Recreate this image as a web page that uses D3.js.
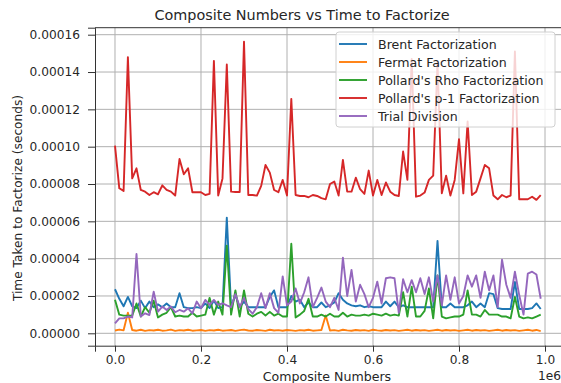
<!DOCTYPE html>
<html><head><meta charset="utf-8">
<script src="https://cdn.jsdelivr.net/npm/d3@7"></script>
<style>body{margin:0;background:#fff}svg{display:block;font-family:"DejaVu Sans",sans-serif}</style>
</head><body><svg id="c" width="561" height="383"></svg>
<script>
// composite numbers (x values)
const composites = d3.range(100).map(i => i * 10000);
// times in microseconds, converted to seconds below
const brent = [23.6,18.5,14.5,19.5,14.5,13.5,17.5,13.5,17,14, 15.5,14,16,14,14,21.5,14,13.5,13.5,14, 13.5,16,13.5,17.5,13.5,14,62,14,20.5,14, 17,14,14,14,14,14,19.5,23,14,14, 14,20,17,18,14,16.5,14,14,16.5,14, 15,16.5,21.5,18,16,15,14.5,15,14,14.5, 14,14,14,17,14.5,17,14,15,14,14, 14,14,14,14,14,49.5,14,14,16,14, 14,14,15,17,14,16,14,21.5,21,13.5, 13,13,13,27.5,13,13,13,13.5,16,13];
const fermat = [1.5,2.0,1.6,11,1.8,1.4,1.9,1.3,1.7,1.5, 1.9,1.4,1.6,2.0,1.3,1.7,1.5,1.9,1.4,1.6, 1.8,1.3,1.7,1.5,1.9,1.4,1.6,1.8,1.3,1.7, 2.0,1.5,1.4,1.8,1.6,1.3,1.9,1.5,1.7,1.4, 1.8,1.6,1.3,1.7,1.5,1.9,1.4,1.6,1.8,9.5, 1.5,1.7,1.3,1.9,1.6,1.4,1.8,1.5,1.7,1.3, 1.9,1.6,1.4,1.8,1.5,1.7,1.3,1.6,1.9,1.4, 1.8,1.5,1.7,1.3,1.6,1.9,1.4,1.8,1.5,1.7, 1.3,1.6,1.9,1.4,1.8,1.5,1.7,1.3,1.6,1.9, 1.4,1.8,1.5,1.7,1.3,1.6,1.9,1.4,1.8,1.2];
const rho = [18,10,9.5,9.5,9.5,16,9,14,11,17.5, 8.5,10,11,14,9,9.5,9,9,11,9, 9.5,10,19,10,17,10,47,10,23,9, 23,10.5,9,10.5,11.5,9.5,11.5,9.5,10.5,9, 9,48,8.5,10,12,18.5,9,9,10,9, 10.5,9,9,11,9,10,9.5,9.5,10,9.5, 10.5,10,9.5,10.5,9.5,10,9.5,22,9,25, 9,9,12,24,8,31,9,8,8.5,9, 9,10,23,10,10,9,12.5,10,10,10, 9,9,8,19.5,9,8,8.5,8,9,10];
const pm1 = [100.6,77.7,76.3,148,83,88.4,76.8,75.9,74.1,75.6, 74.5,79.3,76.8,75.9,73.8,93.4,85.2,88.4,75.6,75.6, 75.6,74.1,74.7,146,73.8,83,144,75.9,75.7,75.7, 156.3,74.1,74.1,73.8,79,90.2,86.1,76.8,75.6,82.2, 73.8,125.6,74.1,73.6,73.6,72.9,74.1,73.6,72.4,71.8, 80,81.3,73.8,92.9,75.9,75.9,83.4,77.2,74.7,87.2, 73.8,82.2,74.1,80.8,75.9,74.1,73.6,97.4,82.2,147, 73.2,73.8,75.4,82.2,84.5,145,75,84.5,73.8,82.2, 104,75,113.5,74.1,75.9,83,90.2,88.4,73.8,71.8, 74.1,72.9,73.8,151,71.8,71.8,71.8,73.2,71.5,74.1];
const trial = [5.3,8,8,9,8.5,42.5,9,10.7,9.8,22.3, 11.6,14.3,12.5,14.3,11.3,12.5,11.6,13.4,10.7,17, 13.4,17.9,15.2,17.9,15.2,16.1,15,14,21,14, 19,13,10.5,14,21.5,13.5,21.5,13.5,11,30.5, 15,17,24,16,22,30,14,19,24.5,17, 14,19,12.5,40.5,20,34,17,26,21,14, 19,27.7,16,29.5,30,29.5,11,29,22,28.5, 22,29.5,21,30,17,31,15,31,18,30, 16,20,31,25,31,19,33,23,31,14, 39.5,26,19,33,20.5,10,32,33,31.5,18.5];
const seriesNames = ["Brent Factorization","Fermat Factorization","Pollard's Rho Factorization","Pollard's p-1 Factorization","Trial Division"];
const seriesColors = ["#1f77b4","#ff7f0e","#2ca02c","#d62728","#9467bd"];
const xTicks = [0,200000,400000,600000,800000,1000000];
const yTicks = [0,0.00002,0.00004,0.00006,0.00008,0.0001,0.00012,0.00014,0.00016];

const allSeries = [brent, fermat, rho, pm1, trial];
const svg = d3.select("#c");
const L = 95, R = 562, T = 27.7, B = 345.7;
const x = d3.scaleLinear().domain([-46500, 1039500]).range([L, R]);
const y = d3.scaleLinear().domain([-6.64e-6, 1.6375e-4]).range([B, T]);

// grid
const g = svg.append("g");
g.selectAll("line.vx").data(xTicks).join("line")
  .attr("x1", d => x(d)).attr("x2", d => x(d)).attr("y1", T).attr("y2", B)
  .attr("stroke", "#b0b0b0").attr("stroke-width", 1);
g.selectAll("line.hy").data(yTicks).join("line")
  .attr("y1", d => y(d)).attr("y2", d => y(d)).attr("x1", L).attr("x2", R)
  .attr("stroke", "#b0b0b0").attr("stroke-width", 1);

// lines
const line = d3.line().x((d, i) => x(composites[i])).y(d => y(d * 1e-6));
allSeries.forEach((s, k) => {
  svg.append("path").datum(s).attr("d", line).attr("fill", "none")
    .attr("stroke", seriesColors[k]).attr("stroke-width", 1.9).attr("stroke-linejoin", "round");
});

// axes
const xAxis = d3.axisBottom(x).tickValues(xTicks).tickFormat(d => (d / 1e6).toFixed(1)).tickSizeOuter(0).tickSize(6).tickPadding(3.5);
const yAxis = d3.axisLeft(y).tickValues(yTicks).tickFormat(d => d.toFixed(5)).tickSizeOuter(0).tickSize(7).tickPadding(8);
const gx = svg.append("g").attr("transform", `translate(0,${B})`).call(xAxis);
const gy = svg.append("g").attr("transform", `translate(${L},0)`).call(yAxis);
[gx, gy].forEach(a => {
  a.select(".domain").attr("stroke", "#333").attr("stroke-width", 1);
  a.selectAll(".tick line").attr("stroke", "#333");
  a.selectAll(".tick text").attr("fill", "#262626").style("font-size", "12.2px").style("font-family", "DejaVu Sans");
});
svg.append("line").attr("x1", L).attr("x2", R).attr("y1", T).attr("y2", T).attr("stroke", "#333");

// texts
svg.append("text").attr("x", 302).attr("y", 20).attr("text-anchor", "middle")
  .style("font-size", "14.4px").attr("fill", "#262626").text("Composite Numbers vs Time to Factorize");
svg.append("text").attr("x", 327).attr("y", 381).attr("text-anchor", "middle")
  .style("font-size", "12.6px").attr("fill", "#262626").text("Composite Numbers");
svg.append("text").attr("x", 561).attr("y", 380).attr("text-anchor", "end")
  .style("font-size", "12.2px").attr("fill", "#262626").text("1e6");
svg.append("text").attr("transform", "translate(22,198) rotate(-90)").attr("text-anchor", "middle")
  .style("font-size", "12.2px").attr("fill", "#262626").text("Time Taken to Factorize (seconds)");

// legend
const lg = svg.append("g");
lg.append("rect").attr("x", 336).attr("y", 32).attr("width", 219).attr("height", 95).attr("rx", 3)
  .attr("fill", "white").attr("fill-opacity", 0.8).attr("stroke", "#d0d0d0");
seriesNames.forEach((n, k) => {
  const yy = 44 + k * 18;
  lg.append("line").attr("x1", 339).attr("x2", 367).attr("y1", yy).attr("y2", yy)
    .attr("stroke", seriesColors[k]).attr("stroke-width", 1.9);
  lg.append("text").attr("x", 378).attr("y", yy + 4.5).style("font-size", "12.6px").attr("fill", "#262626").text(n);
});
</script></body></html>
